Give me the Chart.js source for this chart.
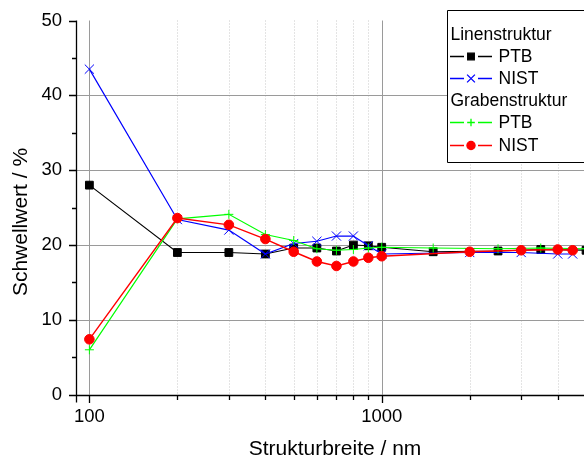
<!DOCTYPE html>
<html>
<head>
<meta charset="utf-8">
<script src="https://cdn.jsdelivr.net/npm/chart.js@4"></script>
<style>
  html, body { margin: 0; padding: 0; background: #fff; overflow: hidden; }
  #wrap { width: 584px; height: 457px; }
  canvas { display: block; }
</style>
</head>
<body>
<div id="wrap"><canvas id="chart" width="584" height="457"></canvas></div>
<script>
const widthsPTB = [100, 200, 300, 400, 500, 600, 700, 800, 900, 1000, 1500, 2500, 3500, 5000];
const widthsNIST = [100, 200, 300, 400, 500, 600, 700, 800, 900, 1000, 2000, 3000, 4000, 4500];
const linePTB = [28.0, 19.0, 19.0, 18.8, 19.6, 19.6, 19.2, 20.0, 19.9, 19.7, 19.1, 19.2, 19.4, 19.3];
const lineNIST = [43.5, 23.4, 22.0, 18.8, 20.2, 20.5, 21.2, 21.2, 19.9, 18.8, 19.0, 19.0, 18.8, 18.8];
const trenchPTB = [6.0, 23.5, 24.1, 21.4, 20.6, 19.5, 19.3, 19.4, 19.6, 19.7, 19.6, 19.5, 19.6, 19.5];
const trenchNIST = [7.4, 23.6, 22.7, 20.8, 19.1, 17.8, 17.2, 17.8, 18.3, 18.5, 19.1, 19.3, 19.4, 19.3];

// Achsen
const xTicks = [100, 200, 300, 400, 500, 600, 700, 800, 900, 1000, 2000, 3000, 4000];
const xLabels = [100, 1000];
const yTicks = [0, 10, 20, 30, 40, 50];
const yMinorTicks = [5, 15, 25, 35, 45];

const FONT = '"Liberation Sans", Arial, sans-serif';

function pts(xs, ys) {
    return xs.map((x, i) => ({ x: x, y: ys[i] }));
}

const series = [
    { group: 'Linenstruktur', label: 'PTB', data: pts(widthsPTB, linePTB), color: '#000000', style: 'rect', radius: 5.5, order: 3 },
    { group: 'Linenstruktur', label: 'NIST', data: pts(widthsNIST, lineNIST), color: '#0000ff', style: 'crossRot', radius: 6.5, order: 2 },
    { group: 'Grabenstruktur', label: 'PTB', data: pts(widthsPTB, trenchPTB), color: '#00ff00', style: 'cross', radius: 4.5, order: 1 },
    { group: 'Grabenstruktur', label: 'NIST', data: pts(widthsNIST, trenchNIST), color: '#ff0000', style: 'circle', radius: 4.8, order: 0 }
];

// Gitter, Achsenstriche und Titel
const frame = {
    id: 'frame',
    beforeDatasetsDraw(chart) {
        const ctx = chart.ctx, a = chart.chartArea;
        const xs = chart.scales.x, ys = chart.scales.y;
        ctx.save();
        ctx.lineWidth = 1;
        xTicks.forEach(v => {
            const px = Math.round(xs.getPixelForValue(v)) + 0.5;
            if (xLabels.includes(v)) {
                ctx.strokeStyle = '#9a9a9a';
                ctx.setLineDash([]);
            } else {
                ctx.strokeStyle = '#c8c8c8';
                ctx.setLineDash([1, 2]);
            }
            ctx.beginPath();
            ctx.moveTo(px, a.top);
            ctx.lineTo(px, a.bottom);
            ctx.stroke();
        });
        ctx.setLineDash([]);
        ctx.strokeStyle = '#9a9a9a';
        [10, 20, 30, 40].forEach(v => {
            const py = Math.round(ys.getPixelForValue(v)) + 0.5;
            ctx.beginPath();
            ctx.moveTo(a.left, py);
            ctx.lineTo(a.right, py);
            ctx.stroke();
        });
        ctx.restore();
    },
    afterDraw(chart) {
        const ctx = chart.ctx, a = chart.chartArea;
        const xs = chart.scales.x, ys = chart.scales.y;
        const left = Math.round(a.left) + 0.5, bottom = Math.round(a.bottom) + 0.5;
        ctx.save();
        ctx.strokeStyle = '#000';
        ctx.lineWidth = 1.3;
        ctx.beginPath();
        ctx.moveTo(left, a.top);
        ctx.lineTo(left, bottom + 7);
        ctx.moveTo(left, bottom);
        ctx.lineTo(a.right, bottom);
        yTicks.forEach(v => {
            const py = Math.round(ys.getPixelForValue(v)) + 0.5;
            ctx.moveTo(left - 7.5, py);
            ctx.lineTo(left, py);
        });
        yMinorTicks.forEach(v => {
            const py = Math.round(ys.getPixelForValue(v)) + 0.5;
            ctx.moveTo(left - 4.5, py);
            ctx.lineTo(left, py);
        });
        xTicks.forEach(v => {
            const px = Math.round(xs.getPixelForValue(v)) + 0.5;
            ctx.moveTo(px, bottom);
            ctx.lineTo(px, bottom + (xLabels.includes(v) ? 7.5 : 4.5));
        });
        ctx.stroke();

        ctx.fillStyle = '#000';
        ctx.font = '21px ' + FONT;
        ctx.textAlign = 'center';
        ctx.textBaseline = 'alphabetic';
        ctx.fillText('Strukturbreite / nm', 335, 455);
        ctx.translate(27, 222);
        ctx.rotate(-Math.PI / 2);
        ctx.fillText('Schwellwert / %', 0, 0);
        ctx.restore();

        // Legende (rechts angeschnitten)
        ctx.save();
        ctx.fillStyle = '#fff';
        ctx.fillRect(447.5, 10.5, 200, 152);
        ctx.strokeStyle = '#000';
        ctx.lineWidth = 1;
        ctx.beginPath();
        ctx.moveTo(700, 10.5);
        ctx.lineTo(447.5, 10.5);
        ctx.lineTo(447.5, 162.5);
        ctx.lineTo(700, 162.5);
        ctx.stroke();
        ctx.font = '17.5px ' + FONT;
        ctx.textAlign = 'left';
        ctx.textBaseline = 'alphabetic';
        let row = 0;
        let lastGroup = null;
        const base = 39.5, step = 22.2;
        series.forEach(s => {
            if (s.group !== lastGroup) {
                ctx.fillStyle = '#000';
                ctx.fillText(s.group, 450.5, base + step * row);
                row++;
                lastGroup = s.group;
            }
            const yb = base + step * row;
            const yc = Math.round(yb - 6) + 0.5;
            ctx.strokeStyle = s.color;
            ctx.fillStyle = s.color;
            ctx.lineWidth = 1.3;
            ctx.beginPath();
            ctx.moveTo(450, yc);
            ctx.lineTo(464, yc);
            ctx.moveTo(478, yc);
            ctx.lineTo(492, yc);
            ctx.stroke();
            Chart.helpers.drawPoint(ctx, { pointStyle: s.style, radius: s.radius * 0.85, rotation: 0, borderWidth: 1 }, 471, yc);
            ctx.fillStyle = '#000';
            ctx.fillText(s.label, 498.5, yb);
            row++;
        });
        ctx.restore();
    }
};

const config = {
    type: 'line',
    data: {
        datasets: series.map(s => ({
            label: s.group + ' ' + s.label,
            data: s.data,
            borderColor: s.color,
            backgroundColor: s.color,
            pointBackgroundColor: s.color,
            pointBorderColor: s.color,
            pointStyle: s.style,
            pointRadius: s.radius,
            pointBorderWidth: 1,
            borderWidth: s.style === 'circle' ? 1.4 : 1.2,
            tension: 0,
            order: s.order
        }))
    },
    options: {
        responsive: false,
        animation: false,
        events: [],
        layout: { autoPadding: false, padding: { top: 20.5, right: 0, bottom: 0, left: 0 } },
        plugins: {
            legend: { display: false },
            tooltip: { enabled: false }
        },
        scales: {
            x: {
                type: 'logarithmic',
                min: 90,
                max: 4920,
                grid: { display: false, drawTicks: false },
                border: { display: false },
                afterBuildTicks: scale => { scale.ticks = xTicks.map(v => ({ value: v })); },
                afterFit: scale => {
                    scale.height = 62.3;
                    scale.paddingLeft = 0;
                    scale.paddingRight = 0;
                },
                ticks: {
                    autoSkip: false,
                    maxRotation: 0,
                    padding: 11,
                    color: '#000',
                    font: { family: FONT, size: 18.5 },
                    callback: v => xLabels.includes(v) ? String(v) : ''
                }
            },
            y: {
                min: 0,
                max: 50,
                grid: { display: false, drawTicks: false },
                border: { display: false },
                afterBuildTicks: scale => { scale.ticks = yTicks.map(v => ({ value: v })); },
                afterFit: scale => {
                    scale.width = 76;
                    scale.paddingTop = 0;
                    scale.paddingBottom = 0;
                },
                ticks: {
                    padding: 14,
                    color: '#000',
                    font: { family: FONT, size: 18.5 }
                }
            }
        }
    },
    plugins: [frame]
};

window.onload = function() {
    const ctx = document.getElementById('chart').getContext('2d');
    new Chart(ctx, config);
};
</script>
</body>
</html>
